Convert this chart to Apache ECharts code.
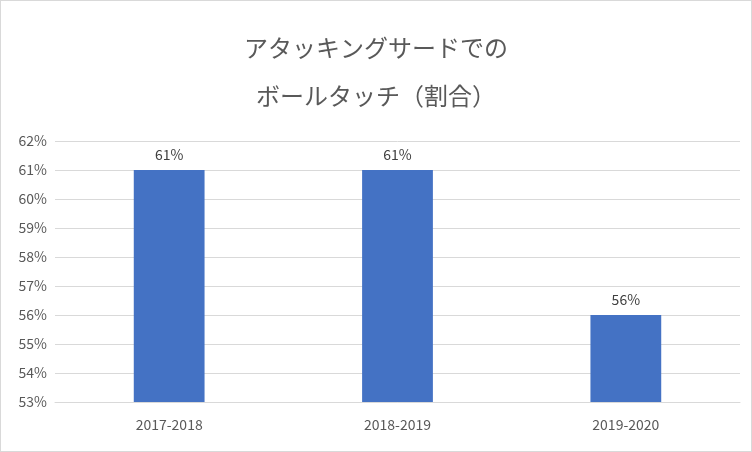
<!DOCTYPE html>
<html><head><meta charset="utf-8">
<script src="https://cdn.jsdelivr.net/npm/echarts@6/dist/echarts.min.js"></script>
<style>html,body{margin:0;padding:0;background:#fff}#c{width:752px;height:452px;box-sizing:border-box;border:1px solid #d9d9d9}</style>
</head><body><div id="c"></div>
<script>
const titleLines = ['アタッキングサードでの', 'ボールタッチ（割合）'];
const categories = ['2017-2018', '2018-2019', '2019-2020'];
const values = [61, 61, 56];
const yMin = 53, yMax = 62, yStep = 1;
const font = '"Noto Sans CJK JP", "Noto Sans", sans-serif';
const chart = echarts.init(document.getElementById('c'));
chart.setOption({
  animation: false,
  title: { text: titleLines.join('\n'), left: 'center', top: 18,
    textStyle: { fontFamily: font, fontSize: 24, fontWeight: 'normal', color: '#595959', lineHeight: 48 } },
  grid: { left: 54, right: 11, top: 140, bottom: 49 },
  xAxis: { type: 'category', data: categories,
    axisLine: { lineStyle: { color: '#d9d9d9' } }, axisTick: { show: false },
    axisLabel: { color: '#595959', fontSize: 14, margin: 16, fontFamily: font } },
  yAxis: { type: 'value', min: yMin, max: yMax, interval: yStep,
    axisLabel: { formatter: '{value}%', color: '#595959', fontSize: 14, fontFamily: font },
    splitLine: { lineStyle: { color: '#d9d9d9' } } },
  series: [{ type: 'bar', data: values, barWidth: '31%', itemStyle: { color: '#4472c4' },
    label: { show: true, position: 'top', formatter: '{c}%', color: '#404040', fontSize: 14, distance: 8, fontFamily: font } }]
});
</script></body></html>
